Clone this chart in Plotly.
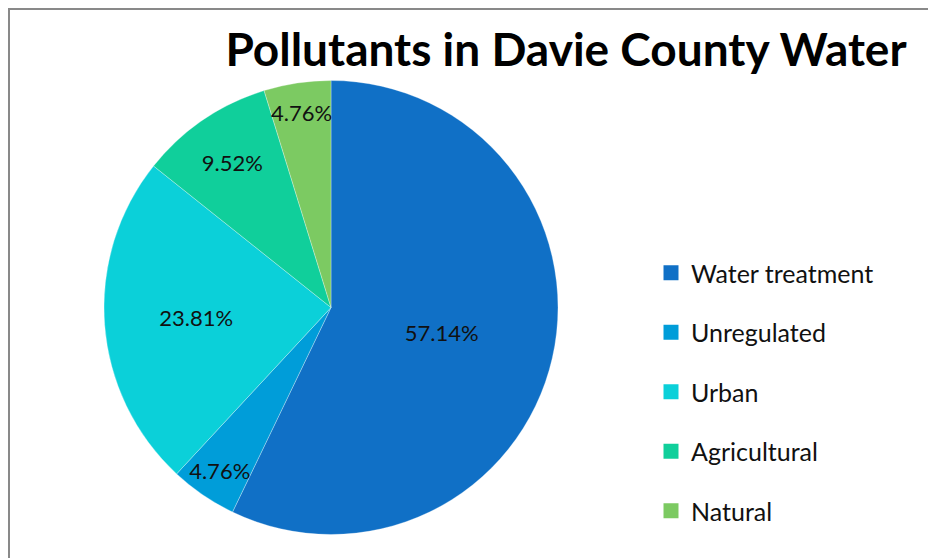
import plotly.graph_objects as go

categories = ["Water treatment", "Unregulated", "Urban", "Agricultural", "Natural"]
values = [12, 1, 5, 2, 1]
colors = ["#1070C6", "#009DD9", "#0BD0D9", "#10CF9B", "#7CCA62"]
title_text = "Pollutants in Davie County Water"

W, H = 936, 558
OFF = 8  # page body margin offset
fig = go.Figure()

fig.add_trace(go.Pie(
    labels=categories, values=values, sort=False, direction="clockwise",
    rotation=0,
    marker=dict(colors=colors, line=dict(color="rgba(255,255,255,0.6)", width=0.5)),
    texttemplate="%{percent:.2%}", textposition="inside",
    insidetextorientation="horizontal",
    textfont=dict(family="Lato", size=22, color="#111111"),
    domain=dict(x=[(104 - OFF) / W, (558 - OFF) / W],
                y=[1 - (535 - OFF) / H, 1 - (80 - OFF) / H]),
    showlegend=False, hoverinfo="label+percent",
))

for i, (c, col) in enumerate(zip(categories, colors)):
    fig.add_trace(go.Scatter(
        x=[None], y=[None], mode="markers", name=c, legendgroup=str(i),
        marker=dict(symbol="square", size=15, color=col),
        showlegend=True,
    ))

fig.update_layout(
    width=W, height=H, margin=dict(l=0, r=0, t=0, b=0),
    paper_bgcolor="white", plot_bgcolor="white",
    xaxis=dict(visible=False), yaxis=dict(visible=False),
    uniformtext=dict(minsize=22, mode="show"),
    legend=dict(x=643 / W, y=1 - 242 / H, xanchor="left", yanchor="top",
                font=dict(family="Lato", size=25, color="#111111"),
                tracegroupgap=24, itemwidth=30, bgcolor="rgba(0,0,0,0)"),
    title=dict(text="<b>" + title_text + "</b>", x=(566 - OFF) / W, xanchor="center",
               y=1 - 42 / H, yanchor="middle",
               font=dict(family="Lato", size=46, color="#000000")),
    shapes=[dict(type="rect", xref="paper", yref="paper",
                 x0=1 / W, x1=1.05, y0=-0.05, y1=1 - 1 / H,
                 line=dict(color="#898989", width=2))],
)

fig.write_html("out.html")
